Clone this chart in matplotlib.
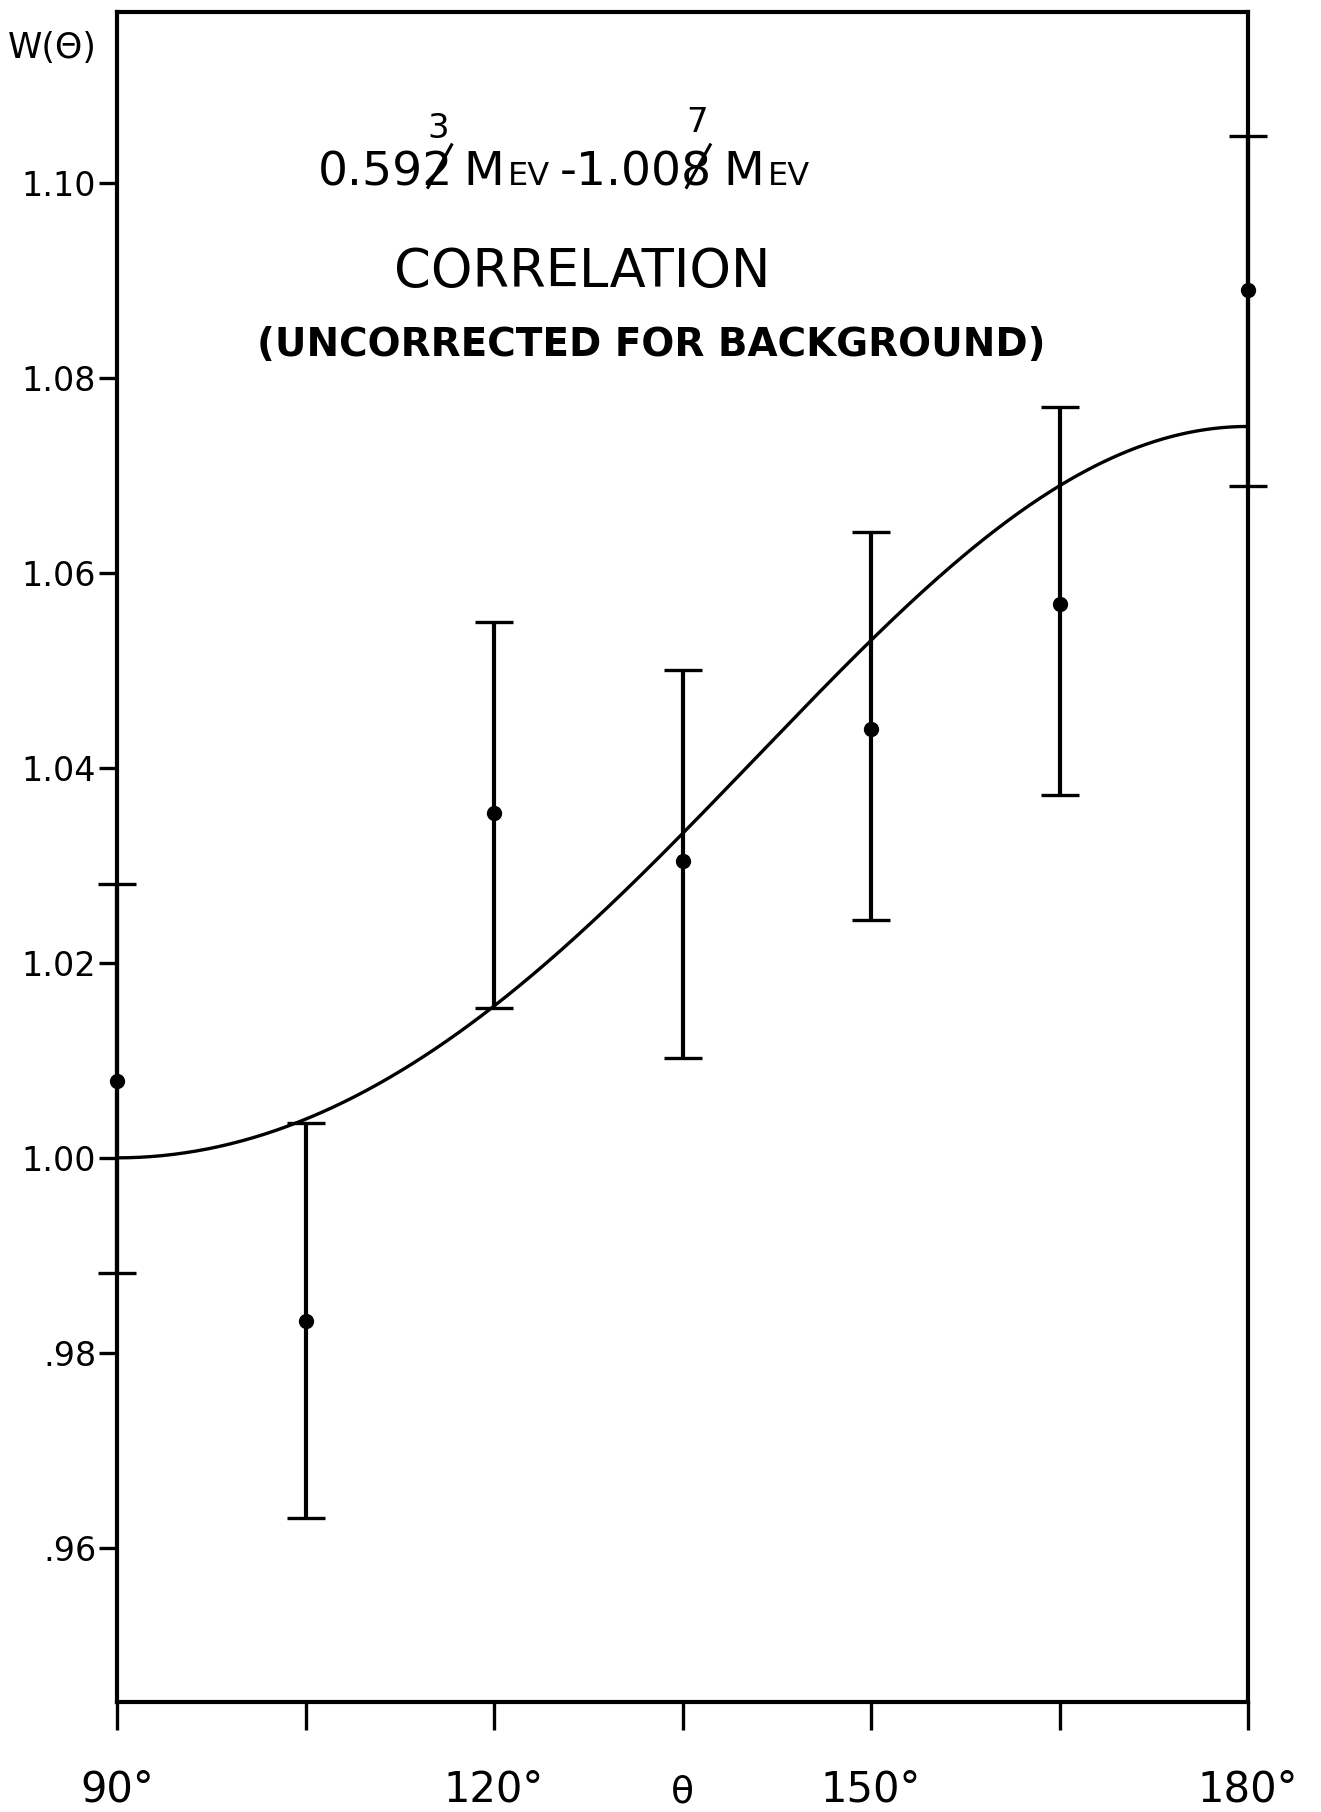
import numpy as np
import matplotlib
matplotlib.use("Agg")
import matplotlib.pyplot as plt
from matplotlib.lines import Line2D

# Measured angular correlation W(theta), uncorrected for background
angles = [90, 105, 120, 135, 150, 165, 180]
w_values = [1.0079, 0.9833, 1.0354, 1.0304, 1.0440, 1.0568, 1.0890]
w_upper = [1.0281, 1.0036, 1.0549, 1.0500, 1.0642, 1.0770, 1.1048]
w_lower = [0.9882, 0.9631, 1.0154, 1.0102, 1.0244, 1.0372, 1.0689]

y_ticks = [0.96, 0.98, 1.00, 1.02, 1.04, 1.06, 1.08, 1.10]
y_tick_labels = [".96", ".98", "1.00", "1.02", "1.04", "1.06", "1.08", "1.10"]
x_ticks = [90, 105, 120, 135, 150, 165, 180]
x_tick_labels = {90: "90°", 120: "120°", 150: "150°", 180: "180°"}

# Fitted correlation function W = 1 + a2 cos^2(theta) + a4 cos^4(theta)
a2, a4 = 0.058, 0.017

W_PX, H_PX = 1321, 1812
FONT = ["DejaVu Sans"]

fig = plt.figure(figsize=(W_PX / 100, H_PX / 100), dpi=100)
fig.patch.set_facecolor("white")

left, right, top, bottom = 117, 1248, 12, 1702
ax = fig.add_axes([left / W_PX, 1 - bottom / H_PX,
                   (right - left) / W_PX, (bottom - top) / H_PX])
ax.set_xlim(90, 180)
ax.set_ylim(0.9442, 1.1175)

for sp in ax.spines.values():
    sp.set_linewidth(3.0)
    sp.set_color("black")

ax.set_yticks(y_ticks)
ax.set_yticklabels(y_tick_labels, family=FONT, fontsize=24)
ax.tick_params(axis="y", direction="out", length=13, width=2.4, pad=2)
ax.set_xticks(x_ticks)
ax.tick_params(axis="x", direction="out", length=20, width=2.4,
               labelbottom=False)

# Theoretical curve
theta = np.linspace(90, 180, 400)
c2 = np.cos(np.radians(theta)) ** 2
ax.plot(theta, 1 + a2 * c2 + a4 * c2 ** 2, color="black", lw=2.4,
        clip_on=False)

# Data points with error bars
vals = np.array(w_values)
yerr = [vals - np.array(w_lower), np.array(w_upper) - vals]
eb = ax.errorbar(angles, w_values, yerr=yerr, fmt="o", color="black",
                 ms=10, elinewidth=3.0, capsize=13.5, capthick=2.4)
for art in [eb[0], *eb[1], *eb[2]]:
    art.set_clip_on(False)

# Angle labels under the axis
xt = ax.get_xaxis_transform()
for ang, lab in x_tick_labels.items():
    ax.text(ang, -0.0515, lab, transform=xt, ha="center", va="center",
            family=FONT, fontsize=30)
ax.text(135, -0.0535, "θ", transform=xt, ha="center", va="center",
        family=FONT, fontsize=27)

# Ordinate label
fig.text(8 / W_PX, 1 - 58 / H_PX, "W(Θ)", ha="left", va="baseline",
         family=FONT, fontsize=25)


def fy(y_px):
    return 1 - y_px / H_PX


def chain(prev, s, gap_pt, size, y_px, **kw):
    return ax.annotate(s, xy=(1, fy(y_px)), xycoords=(prev, "figure fraction"),
                       xytext=(gap_pt, 0), textcoords="offset points",
                       ha="left", va="baseline", fontsize=size,
                       family=FONT, annotation_clip=False, **kw)


def corrected_digit(prev, digit, size, y_px, dy):
    # corrected digit written above the last digit of `prev`
    return ax.annotate(digit, xy=(1, fy(y_px)),
                       xycoords=(prev, "figure fraction"),
                       xytext=(-0.318 * size, dy), textcoords="offset points",
                       ha="center", va="baseline", fontsize=size * 0.72,
                       family=FONT, annotation_clip=False)


# Energy window line
fs1, fs1s, base1 = 34, 23, 185
t0 = fig.text(318 / W_PX, fy(base1), "0.592", ha="left", va="baseline",
              family=FONT, fontsize=fs1)
corrected_digit(t0, "3", fs1, base1, 34)
m1 = chain(t0, "M", 7, fs1, base1)
e1 = chain(m1, "EV", 3, fs1s, base1)
t1 = chain(e1, "-1.008", 7, fs1, base1)
corrected_digit(t1, "7", fs1, base1, 38)
m2 = chain(t1, "M", 8, fs1, base1)
chain(m2, "EV", 3, fs1s, base1)

fig.text(582 / W_PX, fy(287), "CORRELATION", ha="center", va="baseline",
         family=FONT, fontsize=38)
fig.text(651 / W_PX, fy(356), "(UNCORRECTED FOR BACKGROUND)", ha="center",
         va="baseline", family=FONT, fontsize=28, fontweight="bold")

# Strike-through strokes over the replaced digits
fig.canvas.draw()
em_px = fs1 * 100 / 72
for piece in (t0, t1):
    bb = piece.get_window_extent()
    xc = bb.x1 - 0.318 * em_px
    yb = fy(base1) * H_PX
    xs = [xc - 0.22 * em_px, xc + 0.28 * em_px]
    ys = [yb - 0.05 * em_px, yb + 0.85 * em_px]
    fig.add_artist(Line2D([x / W_PX for x in xs], [y / H_PX for y in ys],
                          transform=fig.transFigure, color="black", lw=2.2))

fig.savefig("out.png", dpi=100, facecolor="white")
